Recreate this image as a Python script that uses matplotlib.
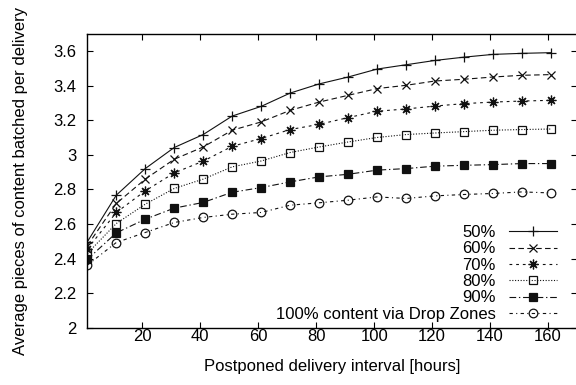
import matplotlib
matplotlib.use("Agg")
import matplotlib.pyplot as plt

plt.rcParams['font.family'] = ['Liberation Sans', 'DejaVu Sans']

x_hours = [1, 11, 21, 31, 41, 51, 61, 71, 81, 91, 101, 111, 121, 131, 141, 151, 161]

s50 = [2.497, 2.767, 2.921, 3.043, 3.118, 3.225, 3.281, 3.358, 3.411, 3.451, 3.497,
       3.522, 3.547, 3.566, 3.582, 3.588, 3.592]
s60 = [2.475, 2.719, 2.860, 2.975, 3.046, 3.143, 3.191, 3.258, 3.306, 3.345, 3.384,
       3.403, 3.428, 3.438, 3.451, 3.461, 3.465]
s70 = [2.455, 2.667, 2.792, 2.896, 2.964, 3.050, 3.095, 3.147, 3.177, 3.216, 3.253,
       3.266, 3.283, 3.297, 3.306, 3.312, 3.316]
s80 = [2.430, 2.603, 2.715, 2.806, 2.860, 2.931, 2.965, 3.014, 3.046, 3.075, 3.101,
       3.118, 3.127, 3.135, 3.143, 3.147, 3.150]
s90 = [2.395, 2.549, 2.628, 2.692, 2.725, 2.784, 2.811, 2.844, 2.873, 2.888, 2.912,
       2.921, 2.935, 2.940, 2.944, 2.950, 2.950]
s100 = [2.362, 2.493, 2.551, 2.609, 2.638, 2.657, 2.667, 2.709, 2.723, 2.738, 2.757,
        2.748, 2.763, 2.771, 2.777, 2.786, 2.780]

labels = ["50%", "60%", "70%", "80%", "90%", "100% content via Drop Zones"]
x_ticks = [20, 40, 60, 80, 100, 120, 140, 160]
y_ticks = [2, 2.2, 2.4, 2.6, 2.8, 3, 3.2, 3.4, 3.6]
y_tick_labels = ["2", "2.2", "2.4", "2.6", "2.8", "3", "3.2", "3.4", "3.6"]

FS = 12
fig = plt.figure(figsize=(5.76, 3.85), dpi=100)
ax = fig.add_axes([87.3 / 576, 1 - 327.7 / 385, (577 - 87.3) / 576, (327.7 - 34) / 385])

lw = 0.8
col = '#111111'
styles = [
    dict(linestyle='-', marker='+', ms=7, mew=0.9, mfc='none'),
    dict(linestyle=(0, (5, 3)), marker='x', ms=5.5, mew=0.9, mfc='none'),
    dict(linestyle=(0, (2.5, 3.5)), marker=(8, 2, 0), ms=7, mew=0.9, mfc='none'),
    dict(linestyle=(0, (1, 1.5)), marker='s', ms=5.8, mew=0.9, mfc='none'),
    dict(linestyle=(0, (6, 2.5, 1.2, 2.5)), marker='s', ms=5.8, mew=0.9, mfc=col),
    dict(linestyle=(0, (3, 3, 1, 3)), marker='o', ms=6.2, mew=0.9, mfc='none'),
]
series = [s50, s60, s70, s80, s90, s100]
for ys, lab, st in zip(series, labels, styles):
    ax.plot(x_hours, ys, color=col, lw=lw, label=lab, **st)

ax.set_xlim(1, 170)
ax.set_ylim(2, 3.7)
ax.set_xticks(x_ticks)
ax.set_yticks(y_ticks)
ax.set_yticklabels(y_tick_labels)
ax.tick_params(direction='in', length=4.5, width=0.8, top=True, right=True,
               labelsize=FS, colors='black')
ax.tick_params(axis='x', pad=1)
ax.tick_params(axis='y', pad=8)
for sp in ax.spines.values():
    sp.set_linewidth(1.0)

ax.set_xlabel("Postponed delivery interval [hours]", fontsize=FS)
ax.set_ylabel("Average pieces of content batched per delivery", fontsize=FS)
ax.xaxis.set_label_coords(0.5, -0.105)
ax.yaxis.set_label_coords(-0.122, 0.5)

leg = ax.legend(loc='lower right', bbox_to_anchor=(0.96, 0.02), frameon=False,
                markerfirst=False, fontsize=FS, handlelength=2.9, handletextpad=0.8,
                labelspacing=0.08, borderpad=0, borderaxespad=0)

fig.savefig("out.png", dpi=100)
